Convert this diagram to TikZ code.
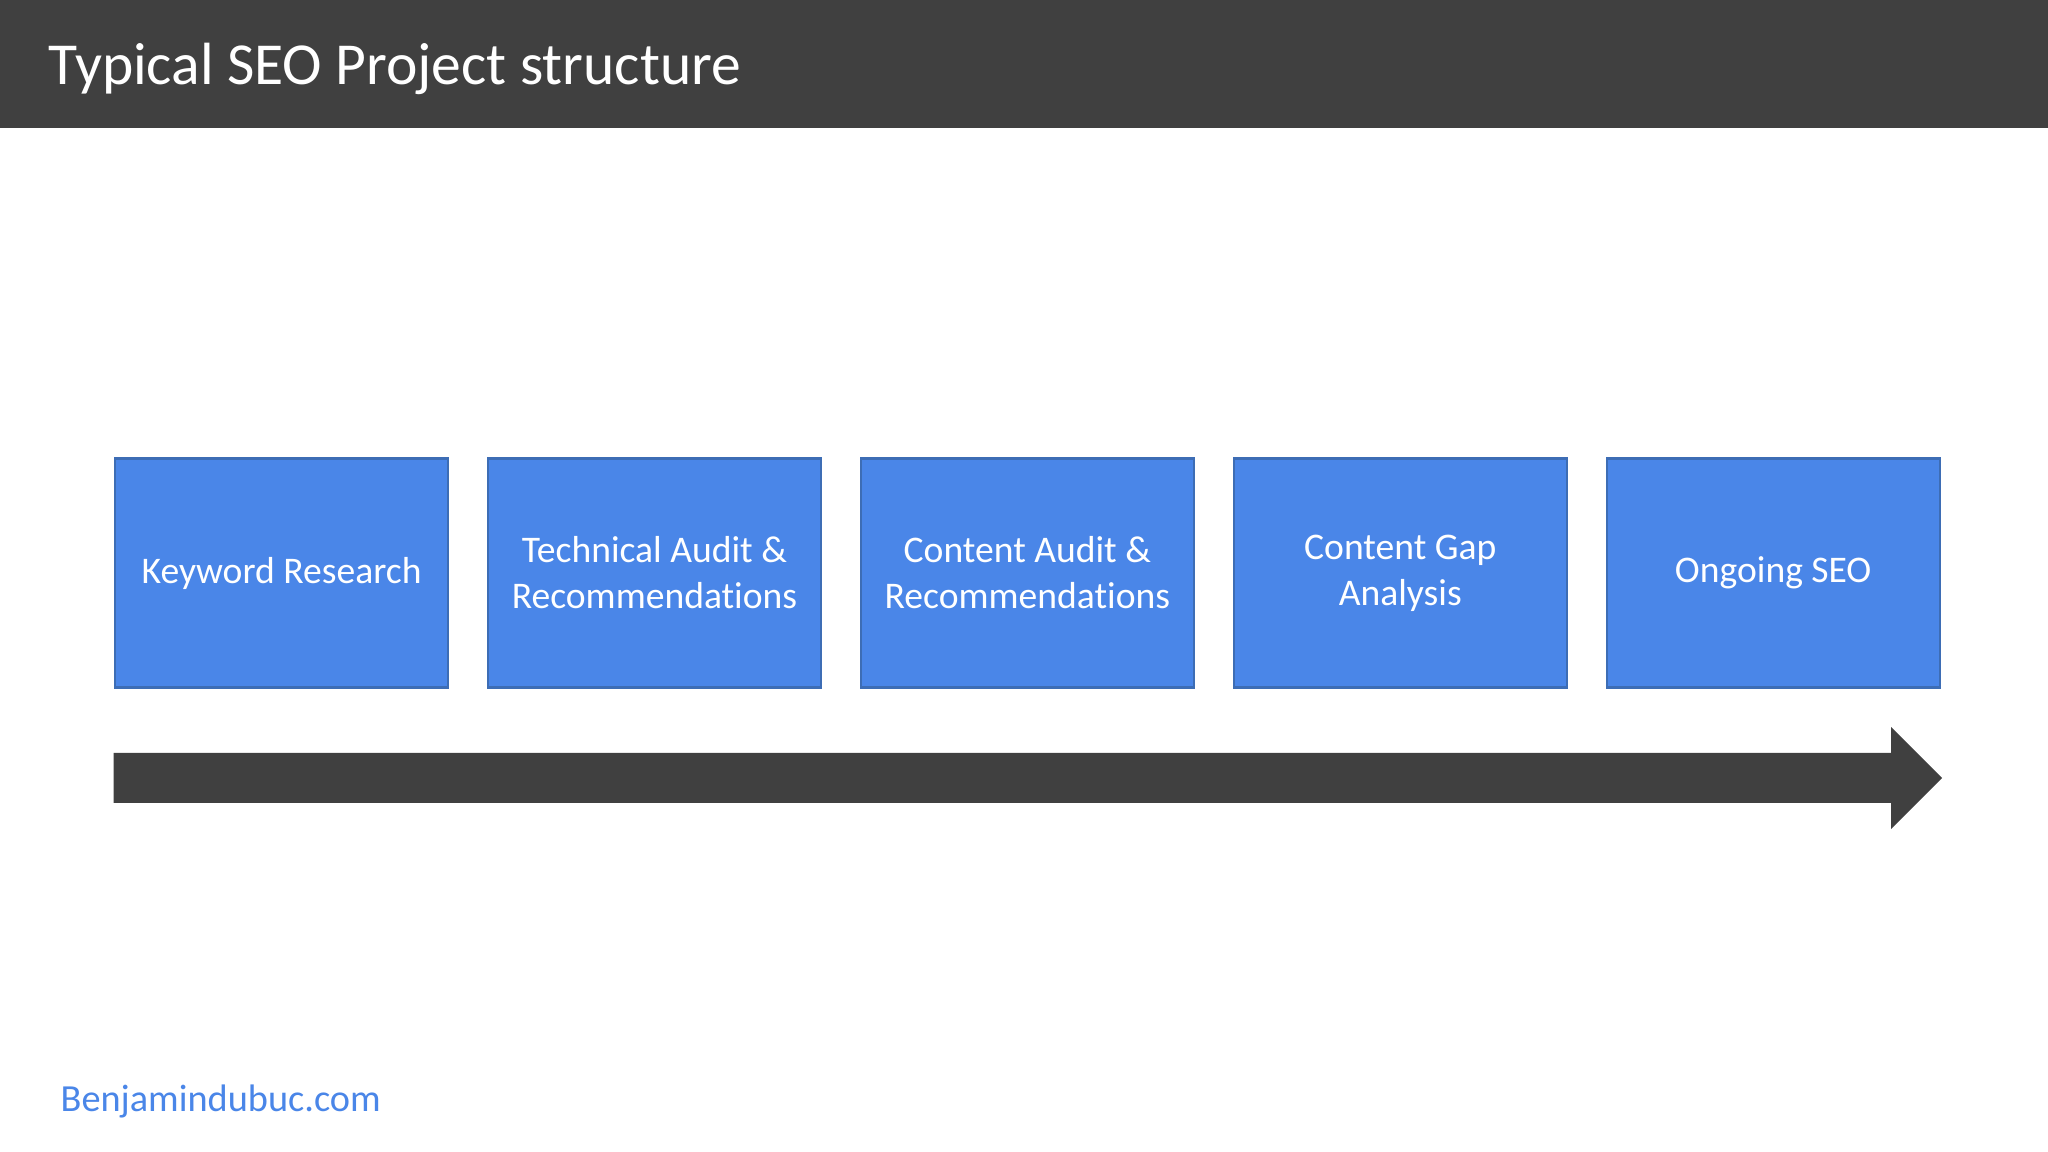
\documentclass[tikz,border=0pt]{standalone}
\usepackage{fontspec}
\setmainfont{Carlito}[Ligatures=NoCommon]
\usetikzlibrary{positioning}
\definecolor{slategray}{HTML}{404040}
\definecolor{stepblue}{HTML}{4A86E8}
\definecolor{stepedge}{HTML}{3D6DB5}
\tikzset{
  stepbox/.style={draw=stepedge,fill=stepblue,line width=0.6pt,minimum width=3.33cm,minimum height=2.29cm,
    anchor=north west,align=center,text=white,font=\fontsize{10.7}{13.1}\selectfont,inner sep=0pt},
}
\begin{document}
\begin{tikzpicture}
                \useasboundingbox[fill=white] (0,0) rectangle (20.48,-11.52);
                \fill[slategray] (0,0) rectangle (20.48,-1.28);
                \node[anchor=base west,text=white,font=\fontsize{16.95}{20}\selectfont,inner sep=0pt] (title) at (0.48,-0.85) {Typical SEO Project structure};
                \node[stepbox] (kw) at (1.14,-4.575) {Keyword Research};
                \node[stepbox,right=0.378cm of kw] (tech) {Technical Audit \&\\Recommendations};
                \node[stepbox,right=0.378cm of tech] (cont) {Content Audit \&\\Recommendations};
                \node[stepbox,right=0.378cm of cont] (gap) {Content Gap\\Analysis};
                \node[stepbox,right=0.378cm of gap] (seo) {Ongoing SEO};
                \fill[slategray] (1.136,-7.53) -- (18.91,-7.53) -- (18.91,-7.27) -- (19.42,-7.78) -- (18.91,-8.29) -- (18.91,-8.03) -- (1.136,-8.03) -- cycle;
                \node[anchor=base west,text=stepblue,font=\fontsize{10.9}{13}\selectfont,inner sep=0pt] (site) at (0.60,-11.11) {Benjamindubuc.com};
            \end{tikzpicture}
\end{document}
